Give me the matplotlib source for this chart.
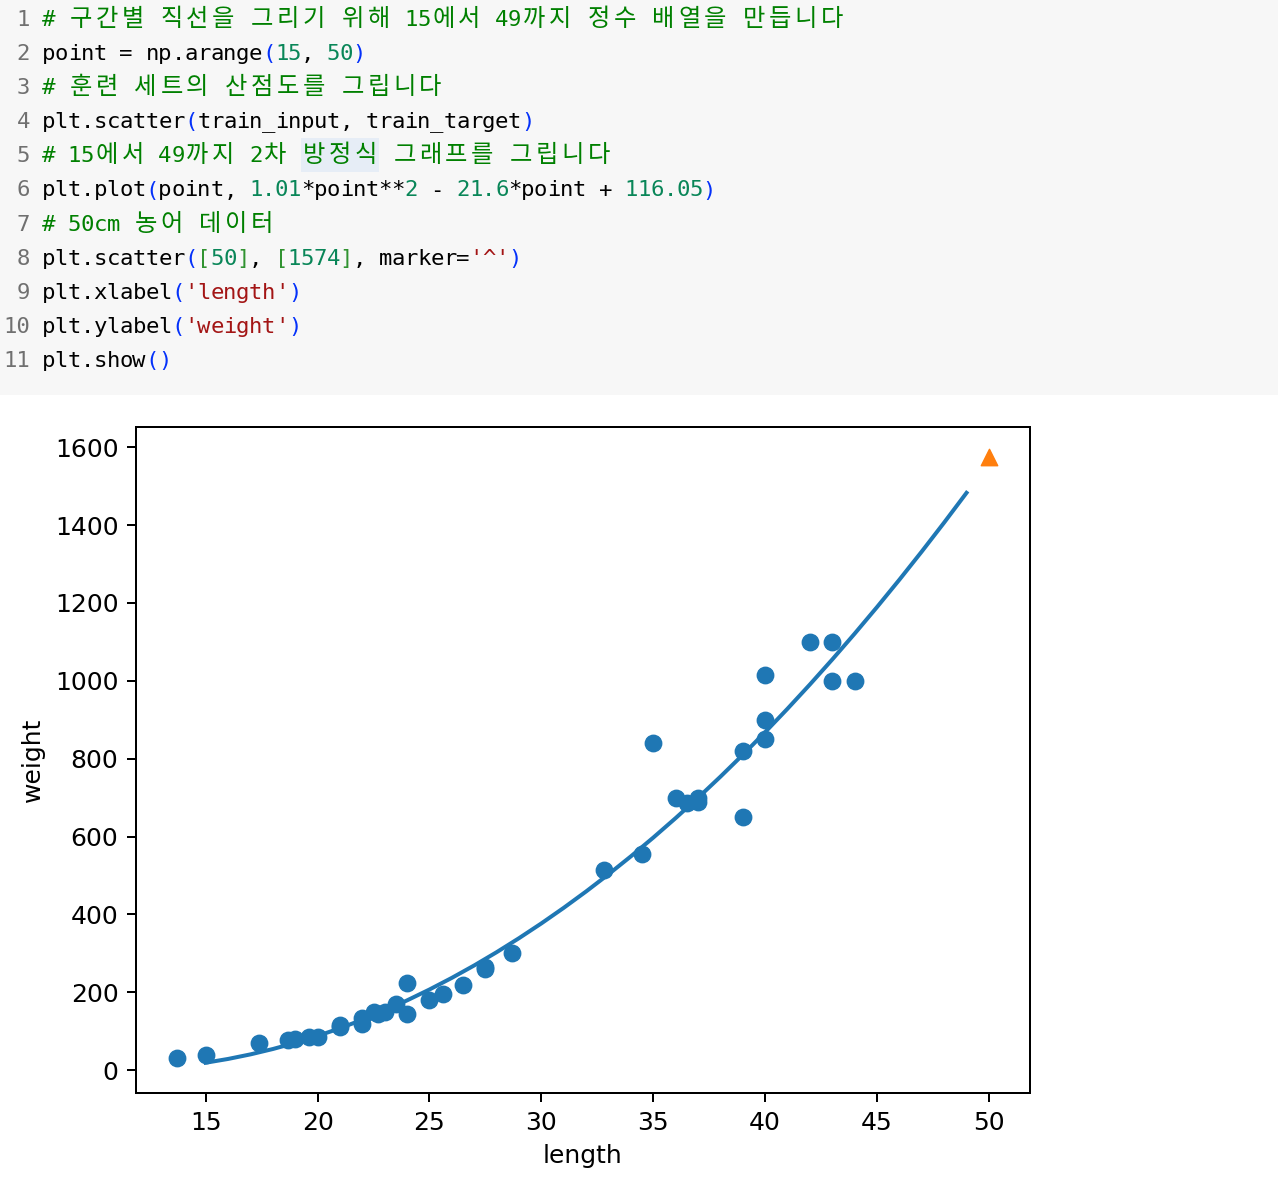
import numpy as np
import matplotlib.pyplot as plt
from matplotlib.patches import Rectangle

# training data (perch length / weight)
train_input = [13.7, 15.0, 17.4, 18.7, 19.0, 19.6, 20.0, 21.0, 21.0, 22.0,
               22.0, 22.5, 22.7, 23.0, 23.5, 24.0, 24.0, 25.0, 25.6, 26.5,
               27.5, 27.5, 28.7, 32.8, 34.5, 35.0, 36.0, 36.5, 37.0, 37.0,
               39.0, 39.0, 40.0, 40.0, 40.0, 42.0, 43.0, 43.0, 44.0]
train_target = [32, 40, 70, 78, 80, 85, 85, 110, 115, 135,
                120, 150, 145, 150, 170, 225, 145, 180, 197, 218,
                265, 260, 300, 514, 556, 840, 700, 685, 700, 690,
                820, 650, 1015, 900, 850, 1100, 1100, 1000, 1000]

# quadratic shown in the code cell: 1.01*x**2 - 21.6*x + 116.05
fit_coef = [1.01, -21.6, 116.05]
point = np.arange(15, 50)

new_length = [50]
new_weight = [1574]

# code cell, one list of (text, kind) pieces per line
code_lines = [
    [("# 구간별 직선을 그리기 위해 15에서 49까지 정수 배열을 만듭니다", "c")],
    [("point = np.arange", "k"), ("(", "b1"), ("15", "n"), (", ", "k"), ("50", "n"), (")", "b1")],
    [("# 훈련 세트의 산점도를 그립니다", "c")],
    [("plt.scatter", "k"), ("(", "b1"), ("train_input, train_target", "k"), (")", "b1")],
    [("# 15에서 49까지 2차 방정식 그래프를 그립니다", "c")],
    [("plt.plot", "k"), ("(", "b1"), ("point, ", "k"), ("1.01", "n"), ("*point**", "k"), ("2", "n"),
     (" - ", "k"), ("21.6", "n"), ("*point + ", "k"), ("116.05", "n"), (")", "b1")],
    [("# 50cm 농어 데이터", "c")],
    [("plt.scatter", "k"), ("(", "b1"), ("[", "b2"), ("50", "n"), ("]", "b2"), (", ", "k"),
     ("[", "b2"), ("1574", "n"), ("]", "b2"), (", marker=", "k"), ("'^'", "s"), (")", "b1")],
    [("plt.xlabel", "k"), ("(", "b1"), ("'length'", "s"), (")", "b1")],
    [("plt.ylabel", "k"), ("(", "b1"), ("'weight'", "s"), (")", "b1")],
    [("plt.show", "k"), ("()", "b1")],
]
colors = {"c": "#008000", "k": "#000000", "n": "#098658", "s": "#a31515",
          "b1": "#0431fa", "b2": "#319331"}

W, H = 1278, 1192
fig = plt.figure(figsize=(W / 100, H / 100), dpi=100)


def fx(px):
    return px / W


def fy(py):
    return 1 - py / H


# code cell background + word highlight
fig.patches.append(Rectangle((0, fy(395)), 1, 395 / H, transform=fig.transFigure,
                             facecolor="#f7f7f7", edgecolor="none", zorder=0))
x0, cw, lh, base0 = 42, 12.95, 34.1, 26
fig.patches.append(Rectangle((fx(x0 + 20 * cw), fy(172)), 6 * cw / W, 34 / H,
                             transform=fig.transFigure, facecolor="#e6edf6",
                             edgecolor="none", zorder=0.5))

for i, pieces in enumerate(code_lines):
    yb = fy(base0 + i * lh)
    fig.text(fx(30), yb, str(i + 1), ha="right", va="baseline", fontsize=16,
             color="#707070", family="DejaVu Sans Mono")
    col = 0
    for txt, kind in pieces:
        for ch in txt:
            wide = ord(ch) > 0x1100
            if ch != " ":
                xc = x0 + (col + (1.0 if wide else 0.5)) * cw
                fig.text(fx(xc), yb, ch, ha="center", va="baseline",
                         fontsize=17.5 if wide else 16, color=colors[kind],
                         family="Noto Sans CJK KR" if wide else "DejaVu Sans Mono")
            col += 2 if wide else 1

# chart, scaled like a 180 dpi inline figure
s = 1.8
plt.rcParams.update({
    "font.size": 10 * s,
    "axes.linewidth": 0.8 * s,
    "xtick.major.size": 3.5 * s, "ytick.major.size": 3.5 * s,
    "xtick.major.width": 0.8 * s, "ytick.major.width": 0.8 * s,
    "xtick.major.pad": 3.5 * s, "ytick.major.pad": 3.5 * s,
    "axes.labelpad": 4.0 * s,
})
ax = fig.add_axes([fx(136), fy(1093), (1029.5 - 136) / W, (1093 - 427) / H])
ax.scatter(train_input, train_target, s=140)
ax.plot(point, np.polyval(fit_coef, point), lw=1.6 * s)
ax.scatter(new_length, new_weight, marker="^", s=140)
ax.set_xlabel("length")
ax.set_ylabel("weight")
for lab in ax.get_xticklabels() + ax.get_yticklabels():
    lab.set_fontsize(10 * s)

fig.savefig("out.png", dpi=100)
